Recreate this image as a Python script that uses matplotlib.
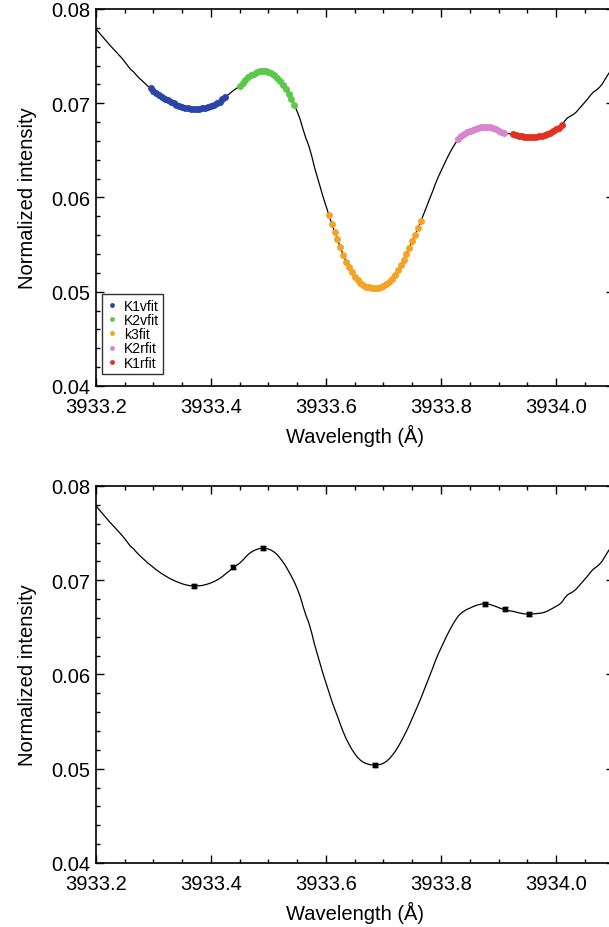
import matplotlib
matplotlib.use("Agg")
import matplotlib.pyplot as plt
import numpy as np
from matplotlib.ticker import MultipleLocator, FormatStrFormatter

plt.rcParams["font.family"] = ["Liberation Sans", "DejaVu Sans"]

# 波長グリッド (0.005 Å 刻み) と規格化強度
wave = np.round(np.arange(3933.200, 3934.1001, 0.005), 3)
intensity = np.array([
    0.07790, 0.07752, 0.07716, 0.07680, 0.07645, 0.07610, 0.07578, 0.07545,
    0.07512, 0.07478, 0.07440, 0.07400, 0.07360, 0.07335, 0.07300, 0.07268,
    0.07240, 0.07212, 0.07183, 0.07160, 0.07135, 0.07110, 0.07088, 0.07067,
    0.07048, 0.07030, 0.07013, 0.06999, 0.06985, 0.06973, 0.06962, 0.06953,
    0.06946, 0.06941, 0.06939, 0.06939, 0.06941, 0.06945, 0.06952, 0.06961,
    0.06972, 0.06985, 0.07000, 0.07018, 0.07040, 0.07065, 0.07090, 0.07116,
    0.07140, 0.07160, 0.07182, 0.07210, 0.07245, 0.07275, 0.07298, 0.07315,
    0.07328, 0.07337, 0.07340, 0.07338, 0.07331, 0.07318, 0.07298, 0.07272,
    0.07235, 0.07195, 0.07150, 0.07095, 0.07040, 0.06980, 0.06910, 0.06830,
    0.06725, 0.06630, 0.06550, 0.06445, 0.06320, 0.06215, 0.06110, 0.06005,
    0.05910, 0.05815, 0.05720, 0.05635, 0.05555, 0.05470, 0.05390, 0.05320,
    0.05260, 0.05205, 0.05160, 0.05120, 0.05090, 0.05068, 0.05055, 0.05045,
    0.05040, 0.05038, 0.05040, 0.05046, 0.05058, 0.05078, 0.05105, 0.05140,
    0.05180, 0.05228, 0.05282, 0.05340, 0.05400, 0.05465, 0.05535, 0.05605,
    0.05675, 0.05748, 0.05825, 0.05900, 0.05980, 0.06058, 0.06140, 0.06215,
    0.06280, 0.06345, 0.06410, 0.06470, 0.06525, 0.06575, 0.06620, 0.06650,
    0.06672, 0.06690, 0.06703, 0.06718, 0.06730, 0.06740, 0.06746, 0.06750,
    0.06749, 0.06743, 0.06733, 0.06722, 0.06710, 0.06698, 0.06688, 0.06680,
    0.06675, 0.06670, 0.06662, 0.06655, 0.06648, 0.06643, 0.06640, 0.06640,
    0.06642, 0.06645, 0.06648, 0.06652, 0.06660, 0.06672, 0.06688, 0.06705,
    0.06722, 0.06740, 0.06765, 0.06810, 0.06845, 0.06862, 0.06880, 0.06905,
    0.06940, 0.06975, 0.07010, 0.07045, 0.07085, 0.07118, 0.07140, 0.07165,
    0.07200, 0.07250, 0.07300, 0.07345, 0.07390,
])

# フィット区間 (Å)
fit_names = ["K1vfit", "K2vfit", "k3fit", "K2rfit", "K1rfit"]
fit_ranges = [
    (3933.295, 3933.425),
    (3933.450, 3933.545),
    (3933.605, 3933.765),
    (3933.830, 3933.910),
    (3933.925, 3934.010),
]
fit_colors = ["#2b44a8", "#5cc84a", "#f5a324", "#d984cc", "#e0321f"]

# 特徴点 (下段, 誤差棒付き)
feat_wave = [3933.370, 3933.439, 3933.490, 3933.686, 3933.877, 3933.911, 3933.953]
feat_int = [0.06937, 0.07140, 0.07340, 0.05035, 0.06752, 0.06692, 0.06642]
feat_err = [0.00022, 0.00022, 0.00022, 0.00022, 0.00022, 0.00022, 0.00022]

FS = 14.5

fig = plt.figure(figsize=(6.09, 9.28), dpi=100)
ax1 = fig.add_axes([0.1576, 0.5830, 0.8498, 0.40625])
ax2 = fig.add_axes([0.1576, 0.0690, 0.8498, 0.40625])


def style_axis(ax):
    ax.set_xlim(3933.2, 3934.1)
    ax.set_ylim(0.04, 0.08)
    ax.xaxis.set_major_locator(MultipleLocator(0.2))
    ax.xaxis.set_minor_locator(MultipleLocator(0.05))
    ax.yaxis.set_major_locator(MultipleLocator(0.01))
    ax.yaxis.set_minor_locator(MultipleLocator(0.002))
    ax.xaxis.set_major_formatter(FormatStrFormatter("%.1f"))
    ax.yaxis.set_major_formatter(FormatStrFormatter("%.2f"))
    ax.tick_params(which="both", direction="in", top=True, right=True,
                   labelsize=FS, width=1.0)
    ax.tick_params(axis="x", which="major", length=5.5, pad=8)
    ax.tick_params(axis="y", which="major", length=5.5, pad=4)
    ax.tick_params(which="minor", length=3)
    for sp in ax.spines.values():
        sp.set_linewidth(1.2)
    ax.set_xlabel("Wavelength (Å)", fontsize=FS, labelpad=6)
    ax.set_ylabel("Normalized intensity", fontsize=FS, labelpad=10)
    # 端のラベルは枠内に寄せる
    ax.figure.canvas.draw()
    labels = ax.get_yticklabels()
    labels[0].set_va("bottom")
    labels[-1].set_va("top")


# --- 上段: スペクトル + フィット区間 ---
ax1.plot(wave, intensity, color="black", linewidth=0.9)
for name, (lo, hi), col in zip(fit_names, fit_ranges, fit_colors):
    sel = (wave >= lo - 1e-6) & (wave <= hi + 1e-6)
    ax1.plot(wave[sel], intensity[sel], "o", color=col, markersize=5.0,
             markeredgewidth=0, label=name)
leg = ax1.legend(loc="lower left", bbox_to_anchor=(0.012, 0.032), fontsize=10,
                 frameon=True, fancybox=False, edgecolor="black", numpoints=1,
                 handlelength=0.8, handletextpad=0.45, labelspacing=0.02,
                 borderpad=0.3, borderaxespad=0, markerscale=0.7)
leg.get_frame().set_linewidth(1.0)
style_axis(ax1)

# --- 下段: スペクトル + 特徴点 ---
ax2.plot(wave, intensity, color="black", linewidth=0.9)
ax2.errorbar(feat_wave, feat_int, yerr=feat_err, fmt="s", color="black",
             markersize=3, elinewidth=1.0, capsize=2.2, capthick=1.0)
style_axis(ax2)

fig.savefig("out.png", dpi=100)
plt.close(fig)
